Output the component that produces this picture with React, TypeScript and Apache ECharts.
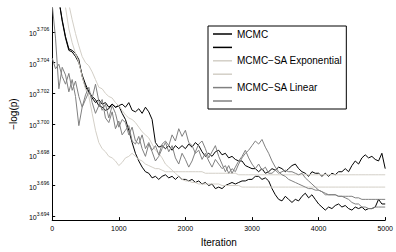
import { useEffect, useRef } from "react";
import * as echarts from "echarts";

// Iterations are sampled every 50 steps from 0 to 5000 (101 samples per run)
const iterationStep = 50;

// Values are log10(-log(p))
const mcmcRun1 = [
  3.7106, 3.7096, 3.7081, 3.7068, 3.7057, 3.7049, 3.7048, 3.7046, 3.7042, 3.7031,
  3.7024, 3.7021, 3.7017, 3.7014, 3.7016, 3.7013, 3.7014, 3.7011, 3.7013, 3.7011,
  3.7012, 3.7013, 3.7011, 3.7014, 3.7009, 3.7008, 3.7010, 3.7007, 3.7011, 3.7008,
  3.7003, 3.6988, 3.6985, 3.6986, 3.6984, 3.6986, 3.6983, 3.6986, 3.6984, 3.6986,
  3.6984, 3.6987, 3.6985, 3.6988, 3.6986, 3.6982, 3.6979, 3.6981, 3.6979, 3.6982,
  3.6983, 3.6980, 3.6981, 3.6978, 3.6979, 3.6977, 3.6976, 3.6976, 3.6973, 3.6972,
  3.6971, 3.6971, 3.6969, 3.6971, 3.6968, 3.6969, 3.6971, 3.6970, 3.6972, 3.6971,
  3.6969, 3.6971, 3.6973, 3.6974, 3.6971, 3.6969, 3.6968, 3.6966, 3.6969, 3.6968,
  3.6968, 3.6966, 3.6968, 3.6966, 3.6968, 3.6967, 3.6969, 3.6969, 3.6971, 3.6969,
  3.6973, 3.6976, 3.6974, 3.6978, 3.6980, 3.6978, 3.6979, 3.6977, 3.6976, 3.6981,
  3.6971,
];

const mcmcRun2 = [
  3.7106, 3.7096, 3.7081, 3.7067, 3.7056, 3.7048, 3.7047, 3.7044, 3.7040, 3.7032,
  3.7026, 3.7021, 3.7018, 3.7016, 3.7012, 3.7011, 3.7009, 3.7010, 3.7013, 3.7011,
  3.7012, 3.7007, 3.7003, 3.6996, 3.6988, 3.6981, 3.6976, 3.6972, 3.6969, 3.6968,
  3.6965, 3.6966, 3.6964, 3.6966, 3.6967, 3.6965, 3.6966, 3.6964, 3.6966, 3.6964,
  3.6964, 3.6963, 3.6964, 3.6962, 3.6963, 3.6961, 3.6962, 3.6960, 3.6961, 3.6958,
  3.6959, 3.6958, 3.6960, 3.6961, 3.6962, 3.6961, 3.6962, 3.6963, 3.6963, 3.6964,
  3.6964, 3.6966, 3.6966, 3.6964, 3.6965, 3.6963, 3.6958, 3.6954, 3.6951, 3.6950,
  3.6953, 3.6951, 3.6949, 3.6951, 3.6950, 3.6953, 3.6955, 3.6952, 3.6954, 3.6951,
  3.6948, 3.6946, 3.6944, 3.6946, 3.6945, 3.6947, 3.6948, 3.6946, 3.6947, 3.6945,
  3.6944, 3.6946, 3.6945, 3.6946, 3.6944, 3.6945, 3.6945, 3.6946, 3.6951, 3.6948,
  3.6948,
];

const expRun1 = [
  3.7106, 3.7103, 3.7096, 3.7087, 3.7076, 3.7062, 3.7053, 3.7046, 3.7040, 3.7031,
  3.7023, 3.7018, 3.7007, 3.6996, 3.6988, 3.6984, 3.6982, 3.6979, 3.6978, 3.6976,
  3.6973, 3.6975, 3.6978, 3.6979, 3.6981, 3.6979, 3.6977, 3.6976, 3.6974, 3.6973,
  3.6972, 3.6971, 3.6971, 3.6970, 3.6969, 3.6969, 3.6969, 3.6969, 3.6969, 3.6969,
  3.6969, 3.6969, 3.6969, 3.6969, 3.6969, 3.6969, 3.6968, 3.6968, 3.6968, 3.6968,
  3.6968, 3.6968, 3.6968, 3.6968, 3.6968, 3.6968, 3.6967, 3.6967, 3.6967, 3.6967,
  3.6967, 3.6967, 3.6967, 3.6967, 3.6967, 3.6967, 3.6967, 3.6967, 3.6967, 3.6967,
  3.6967, 3.6967, 3.6967, 3.6967, 3.6967, 3.6967, 3.6967, 3.6967, 3.6967, 3.6967,
  3.6967, 3.6967, 3.6967, 3.6967, 3.6967, 3.6967, 3.6967, 3.6967, 3.6967, 3.6967,
  3.6967, 3.6967, 3.6967, 3.6967, 3.6967, 3.6967, 3.6967, 3.6967, 3.6967, 3.6967,
  3.6967,
];

const expRun2 = [
  3.7106, 3.7104, 3.7099, 3.7093, 3.7087, 3.7078, 3.7068, 3.7059, 3.7051, 3.7044,
  3.7040, 3.7038, 3.7034, 3.7029, 3.7024, 3.7023, 3.7020, 3.7018, 3.7017, 3.7014,
  3.7012, 3.7009, 3.7006, 3.7004, 3.7003, 3.7001, 3.6998, 3.6995, 3.6993, 3.6991,
  3.6987, 3.6983, 3.6981, 3.6978, 3.6974, 3.6972, 3.6970, 3.6968, 3.6966, 3.6964,
  3.6963, 3.6963, 3.6962, 3.6962, 3.6961, 3.6961, 3.6961, 3.6961, 3.6961, 3.6961,
  3.6961, 3.6960, 3.6960, 3.6960, 3.6960, 3.6960, 3.6960, 3.6959, 3.6959, 3.6959,
  3.6959, 3.6959, 3.6959, 3.6959, 3.6959, 3.6959, 3.6959, 3.6959, 3.6959, 3.6959,
  3.6959, 3.6959, 3.6959, 3.6959, 3.6959, 3.6959, 3.6959, 3.6959, 3.6959, 3.6959,
  3.6959, 3.6959, 3.6959, 3.6959, 3.6959, 3.6959, 3.6959, 3.6959, 3.6959, 3.6959,
  3.6959, 3.6959, 3.6959, 3.6959, 3.6959, 3.6959, 3.6959, 3.6959, 3.6959, 3.6959,
  3.6959,
];

const linRun1 = [
  3.7078, 3.7056, 3.7023, 3.7037, 3.7032, 3.7021, 3.7029, 3.7018, 3.6999, 3.7011,
  3.7016, 3.7021, 3.7017, 3.7026, 3.7015, 3.7009, 3.7013, 3.7004, 3.7012, 3.7007,
  3.6998, 3.7003, 3.7001, 3.6993, 3.6998, 3.6989, 3.6987, 3.6993, 3.6984, 3.6988,
  3.6983, 3.6986, 3.6980, 3.6987, 3.6989, 3.6986, 3.6993, 3.6989, 3.6997, 3.6992,
  3.6996, 3.6988, 3.6986, 3.6981, 3.6983, 3.6977, 3.6981, 3.6976, 3.6972, 3.6977,
  3.6974, 3.6971, 3.6973, 3.6968, 3.6971, 3.6969, 3.6974, 3.6978, 3.6981, 3.6983,
  3.6986, 3.6989, 3.6987, 3.6990, 3.6985, 3.6981, 3.6976, 3.6972, 3.6969, 3.6967,
  3.6966, 3.6964, 3.6963, 3.6962, 3.6961, 3.6960, 3.6959, 3.6958, 3.6958, 3.6957,
  3.6957, 3.6956, 3.6954, 3.6954, 3.6954, 3.6954, 3.6953, 3.6953, 3.6953, 3.6953,
  3.6953, 3.6952, 3.6952, 3.6951, 3.6951, 3.6951, 3.6951, 3.6951, 3.6951, 3.6951,
  3.6951,
];

const linRun2 = [
  3.7043, 3.7036, 3.7039, 3.7031, 3.7026, 3.7033, 3.7022, 3.7028, 3.7018, 3.7011,
  3.7019, 3.7024, 3.7014, 3.7007, 3.7012, 3.7016, 3.7004, 3.7001, 3.7008, 3.6997,
  3.7002, 3.6993, 3.6996, 3.6999, 3.6989, 3.6987, 3.6992, 3.6984, 3.6979, 3.6987,
  3.6982, 3.6976, 3.6979, 3.6984, 3.6988, 3.6982, 3.6986, 3.6978, 3.6974, 3.6981,
  3.6977, 3.6972, 3.6976, 3.6982, 3.6987, 3.6989, 3.6984, 3.6978, 3.6982, 3.6986,
  3.6979, 3.6974, 3.6969, 3.6973, 3.6968, 3.6972, 3.6976, 3.6979, 3.6983, 3.6978,
  3.6974, 3.6971, 3.6974, 3.6970, 3.6972, 3.6968, 3.6968, 3.6970, 3.6968, 3.6969,
  3.6970, 3.6969, 3.6969, 3.6968, 3.6967, 3.6968, 3.6965, 3.6963, 3.6961, 3.6959,
  3.6957, 3.6956, 3.6955, 3.6954, 3.6954, 3.6954, 3.6953, 3.6953, 3.6952, 3.6951,
  3.6949, 3.6948, 3.6948, 3.6946, 3.6946, 3.6945, 3.6945, 3.6946, 3.6946, 3.6946,
  3.6946,
];

const seriesNames = ["MCMC", " ", "MCMC\u2212SA Exponential", "  ", "MCMC\u2212SA Linear", "   "];
const seriesValues = [mcmcRun1, mcmcRun2, expRun1, expRun2, linRun1, linRun2];
const seriesColors = ["#000000", "#000000", "#d3cfc7", "#d3cfc7", "#808080", "#808080"];

const xTicks = [0, 1000, 2000, 3000, 4000, 5000];
const yTickExponents = [3.694, 3.696, 3.698, 3.7, 3.702, 3.704, 3.706];
const yMin = 3.69375;
const yMax = 3.70756;

const FONT = "Liberation Sans, Arial, Helvetica, sans-serif";

export default function App() {
  const ref = useRef<HTMLDivElement>(null);

  useEffect(() => {
    if (!ref.current) return;
    const chart = echarts.init(ref.current, undefined, { renderer: "svg" });

    const series = seriesValues.map((vals, k) => ({
      name: seriesNames[k],
      type: "line",
      data: vals.map((v, i) => [i * iterationStep, v]),
      showSymbol: false,
      symbol: "none",
      clip: true,
      lineStyle: { color: seriesColors[k], width: 1 },
      itemStyle: { color: seriesColors[k] },
      emphasis: { disabled: true },
      z: 2,
    }));

    chart.setOption({
      animation: false,
      backgroundColor: "#ffffff",
      textStyle: { fontFamily: FONT },
      grid: { left: 46, right: 7, top: 8, bottom: 23, containLabel: false },
      legend: {
        data: seriesNames,
        orient: "vertical",
        left: 208,
        top: 26,
        padding: [3, 4, 3, 5],
        itemGap: 3.4,
        itemWidth: 19,
        itemHeight: 1.5,
        icon: "rect",
        borderColor: "#000000",
        borderWidth: 1,
        borderRadius: 0,
        backgroundColor: "#ffffff",
        selectedMode: false,
        textStyle: { fontSize: 10, color: "#000000", fontFamily: FONT, padding: 0 },
        z: 10,
      },
      xAxis: {
        type: "value",
        min: 0,
        max: 5000,
        interval: 1000,
        name: "Iteration",
        nameLocation: "middle",
        nameGap: 12,
        nameTextStyle: { fontSize: 10, color: "#000000", fontFamily: FONT },
        axisLine: { show: true, onZero: false, lineStyle: { color: "#000000", width: 1 } },
        axisTick: { show: true, inside: true, length: 3, lineStyle: { color: "#000000" } },
        axisLabel: {
          show: true,
          fontSize: 7,
          color: "#000000",
          margin: 5,
          fontFamily: FONT,
          formatter: (v: number) => (xTicks.includes(v) ? String(v) : ""),
        },
        splitLine: { show: false },
      },
      yAxis: {
        type: "value",
        min: yMin,
        max: yMax,
        name: "\u2212log(p)",
        nameLocation: "middle",
        nameRotate: 90,
        nameGap: 26,
        nameTextStyle: { fontSize: 10, color: "#000000", fontFamily: FONT },
        axisLine: { show: true, onZero: false, lineStyle: { color: "#000000", width: 1 } },
        axisTick: {
          show: true,
          inside: true,
          length: 3,
          customValues: yTickExponents,
          lineStyle: { color: "#000000" },
        },
        axisLabel: {
          show: true,
          customValues: yTickExponents,
          margin: 3,
          formatter: (v: number) => `{b|10}{s|${v.toFixed(3)}}`,
          rich: {
            b: { fontSize: 7, lineHeight: 10, color: "#000000", fontFamily: FONT, verticalAlign: "bottom" },
            s: { fontSize: 5, lineHeight: 4, color: "#000000", fontFamily: FONT, verticalAlign: "top" },
          },
        },
        splitLine: { show: false },
      },
      series,
    });

    return () => chart.dispose();
  }, []);

  return (
    <div
      ref={ref}
      style={{ position: "fixed", left: 0, top: 0, width: 396, height: 252, background: "#ffffff" }}
    />
  );
}
